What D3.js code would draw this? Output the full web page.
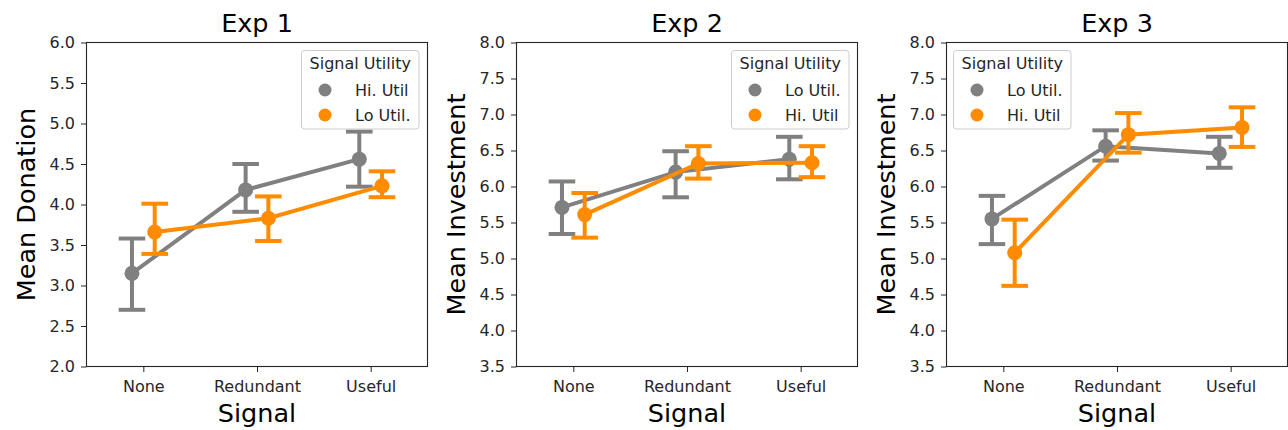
<!DOCTYPE html>
<html>
<head>
<meta charset="utf-8">
<script src="https://cdn.jsdelivr.net/npm/d3@7"></script>
<style>
  html, body { margin: 0; padding: 0; background: #fff; }
  svg { display: block; font-family: "DejaVu Sans", sans-serif; }
</style>
</head>
<body>
<div id="chart"></div>
<script>
(function () {
  'use strict';

  // categories and labels
  var signals = ['None', 'Redundant', 'Useful'];
  var titles = ['Exp 1', 'Exp 2', 'Exp 3'];
  var yLabels = ['Mean Donation', 'Mean Investment', 'Mean Investment'];
  var yDomains = [[2.0, 6.0], [3.5, 8.0], [3.5, 8.0]];
  var yTicks = [
    [2.0, 2.5, 3.0, 3.5, 4.0, 4.5, 5.0, 5.5, 6.0],
    [3.5, 4.0, 4.5, 5.0, 5.5, 6.0, 6.5, 7.0, 7.5, 8.0],
    [3.5, 4.0, 4.5, 5.0, 5.5, 6.0, 6.5, 7.0, 7.5, 8.0]
  ];
  var legendTitle = 'Signal Utility';
  var hueNames = [['Hi. Util', 'Lo Util.'], ['Lo Util.', 'Hi. Util'], ['Lo Util.', 'Hi. Util']];
  var legendSide = ['right', 'right', 'left'];

  // Exp 1 (grey = Hi. Util, orange = Lo Util.)
  var exp1GreyMean = [3.15, 4.18, 4.56];
  var exp1GreyLow = [2.70, 3.91, 4.22];
  var exp1GreyHigh = [3.58, 4.50, 4.90];
  var exp1OrangeMean = [3.66, 3.83, 4.23];
  var exp1OrangeLow = [3.39, 3.55, 4.09];
  var exp1OrangeHigh = [4.01, 4.10, 4.41];

  // Exp 2 (grey = Lo Util., orange = Hi. Util)
  var exp2GreyMean = [5.71, 6.20, 6.38];
  var exp2GreyLow = [5.34, 5.85, 6.10];
  var exp2GreyHigh = [6.07, 6.49, 6.69];
  var exp2OrangeMean = [5.61, 6.32, 6.33];
  var exp2OrangeLow = [5.29, 6.11, 6.13];
  var exp2OrangeHigh = [5.91, 6.56, 6.56];

  // Exp 3 (grey = Lo Util., orange = Hi. Util)
  var exp3GreyMean = [5.55, 6.56, 6.46];
  var exp3GreyLow = [5.20, 6.36, 6.26];
  var exp3GreyHigh = [5.87, 6.78, 6.69];
  var exp3OrangeMean = [5.08, 6.72, 6.82];
  var exp3OrangeLow = [4.62, 6.47, 6.55];
  var exp3OrangeHigh = [5.54, 7.02, 7.10];

  var panels = [
    [[exp1GreyMean, exp1GreyLow, exp1GreyHigh], [exp1OrangeMean, exp1OrangeLow, exp1OrangeHigh]],
    [[exp2GreyMean, exp2GreyLow, exp2GreyHigh], [exp2OrangeMean, exp2OrangeLow, exp2OrangeHigh]],
    [[exp3GreyMean, exp3GreyLow, exp3GreyHigh], [exp3OrangeMean, exp3OrangeLow, exp3OrangeHigh]]
  ];

  var COLORS = ['#808080', '#ff8c00'];
  var W = 1288, H = 430;
  var lefts = [86.5, 516.5, 946.5];
  var plotW = 341;
  var top = 42.5, bottom = 366.5;
  var textColor = '#262626';

  var svg = d3.select('#chart').append('svg')
    .attr('width', W).attr('height', H);

  panels.forEach(function (series, p) {
    var left = lefts[p];
    var x = d3.scalePoint().domain(signals).range([left, left + plotW]).padding(0.5);
    var y = d3.scaleLinear().domain(yDomains[p]).range([bottom, top]);
    var step = x.step();
    var dodge = [-0.1 * step, 0.1 * step];
    var capHalf = 0.117 * step;

    var g = svg.append('g');

    // axes
    var yAxis = d3.axisLeft(y).tickValues(yTicks[p]).tickFormat(d3.format('.1f')).tickSize(5.5).tickPadding(6);
    var xAxis = d3.axisBottom(x).tickSize(5.5).tickPadding(6);

    var ya = g.append('g').attr('transform', 'translate(' + left + ',0)').call(yAxis);
    var xa = g.append('g').attr('transform', 'translate(0,' + bottom + ')').call(xAxis);
    [ya, xa].forEach(function (a) {
      a.select('.domain').remove();
      a.selectAll('line').attr('stroke', textColor).attr('stroke-width', 1);
      a.selectAll('text').attr('fill', textColor).attr('font-size', 16)
        .attr('font-family', '"DejaVu Sans", sans-serif');
    });
    xa.selectAll('text').attr('dy', null).attr('y', 25);

    // marks: each hue draws line, markers, then error bars
    series.forEach(function (s, h) {
      var mean = s[0], lo = s[1], hi = s[2];
      var col = COLORS[h];
      var cx = function (i) { return x(signals[i]) + dodge[h]; };
      var idx = d3.range(signals.length);

      g.append('path')
        .attr('d', d3.line().x(function (i) { return cx(i); }).y(function (i) { return y(mean[i]); })(idx))
        .attr('fill', 'none').attr('stroke', col).attr('stroke-width', 4);

      g.selectAll(null).data(idx).enter().append('circle')
        .attr('cx', cx).attr('cy', function (i) { return y(mean[i]); })
        .attr('r', 7.5).attr('fill', col);

      var eb = g.append('g').attr('stroke', col).attr('stroke-width', 4).attr('fill', 'none');
      idx.forEach(function (i) {
        var c = cx(i);
        eb.append('line').attr('x1', c).attr('x2', c).attr('y1', y(lo[i])).attr('y2', y(hi[i]));
        eb.append('line').attr('x1', c - capHalf).attr('x2', c + capHalf).attr('y1', y(lo[i])).attr('y2', y(lo[i]));
        eb.append('line').attr('x1', c - capHalf).attr('x2', c + capHalf).attr('y1', y(hi[i])).attr('y2', y(hi[i]));
      });
    });

    // frame
    g.append('rect')
      .attr('x', left).attr('y', top).attr('width', plotW).attr('height', bottom - top)
      .attr('fill', 'none').attr('stroke', textColor).attr('stroke-width', 1.1);

    // title and labels
    g.append('text').attr('x', left + plotW / 2).attr('y', 31.5)
      .attr('text-anchor', 'middle').attr('font-size', 25.5).attr('fill', '#000')
      .text(titles[p]);
    g.append('text').attr('x', left + plotW / 2).attr('y', 421.5)
      .attr('text-anchor', 'middle').attr('font-size', 25.5).attr('fill', '#000')
      .text('Signal');
    g.append('text')
      .attr('transform', 'translate(' + (left - 51.5) + ',' + ((top + bottom) / 2) + ') rotate(-90)')
      .attr('text-anchor', 'middle').attr('font-size', 25.5).attr('fill', '#000')
      .text(yLabels[p]);

    // legend
    var lw = 117.5, lh = 78.5;
    var lx = legendSide[p] === 'right' ? left + plotW - 8.5 - lw : left + 7;
    var ly = 50.5;
    var leg = g.append('g').attr('transform', 'translate(' + lx + ',' + ly + ')');
    leg.append('rect').attr('width', lw).attr('height', lh).attr('rx', 3)
      .attr('fill', '#fff').attr('fill-opacity', 0.8).attr('stroke', '#cccccc').attr('stroke-width', 1);
    leg.append('text').attr('x', lw / 2).attr('y', 18.5).attr('text-anchor', 'middle')
      .attr('font-size', 16).attr('fill', textColor).text(legendTitle);
    hueNames[p].forEach(function (name, h) {
      var cy = 39.5 + h * 25;
      leg.append('circle').attr('cx', 23.5).attr('cy', cy).attr('r', 6.5).attr('fill', COLORS[h]);
      leg.append('text').attr('x', 53.5).attr('y', cy + 5.8)
        .attr('font-size', 16).attr('fill', textColor).text(name);
    });
  });
})();
</script>
</body>
</html>
